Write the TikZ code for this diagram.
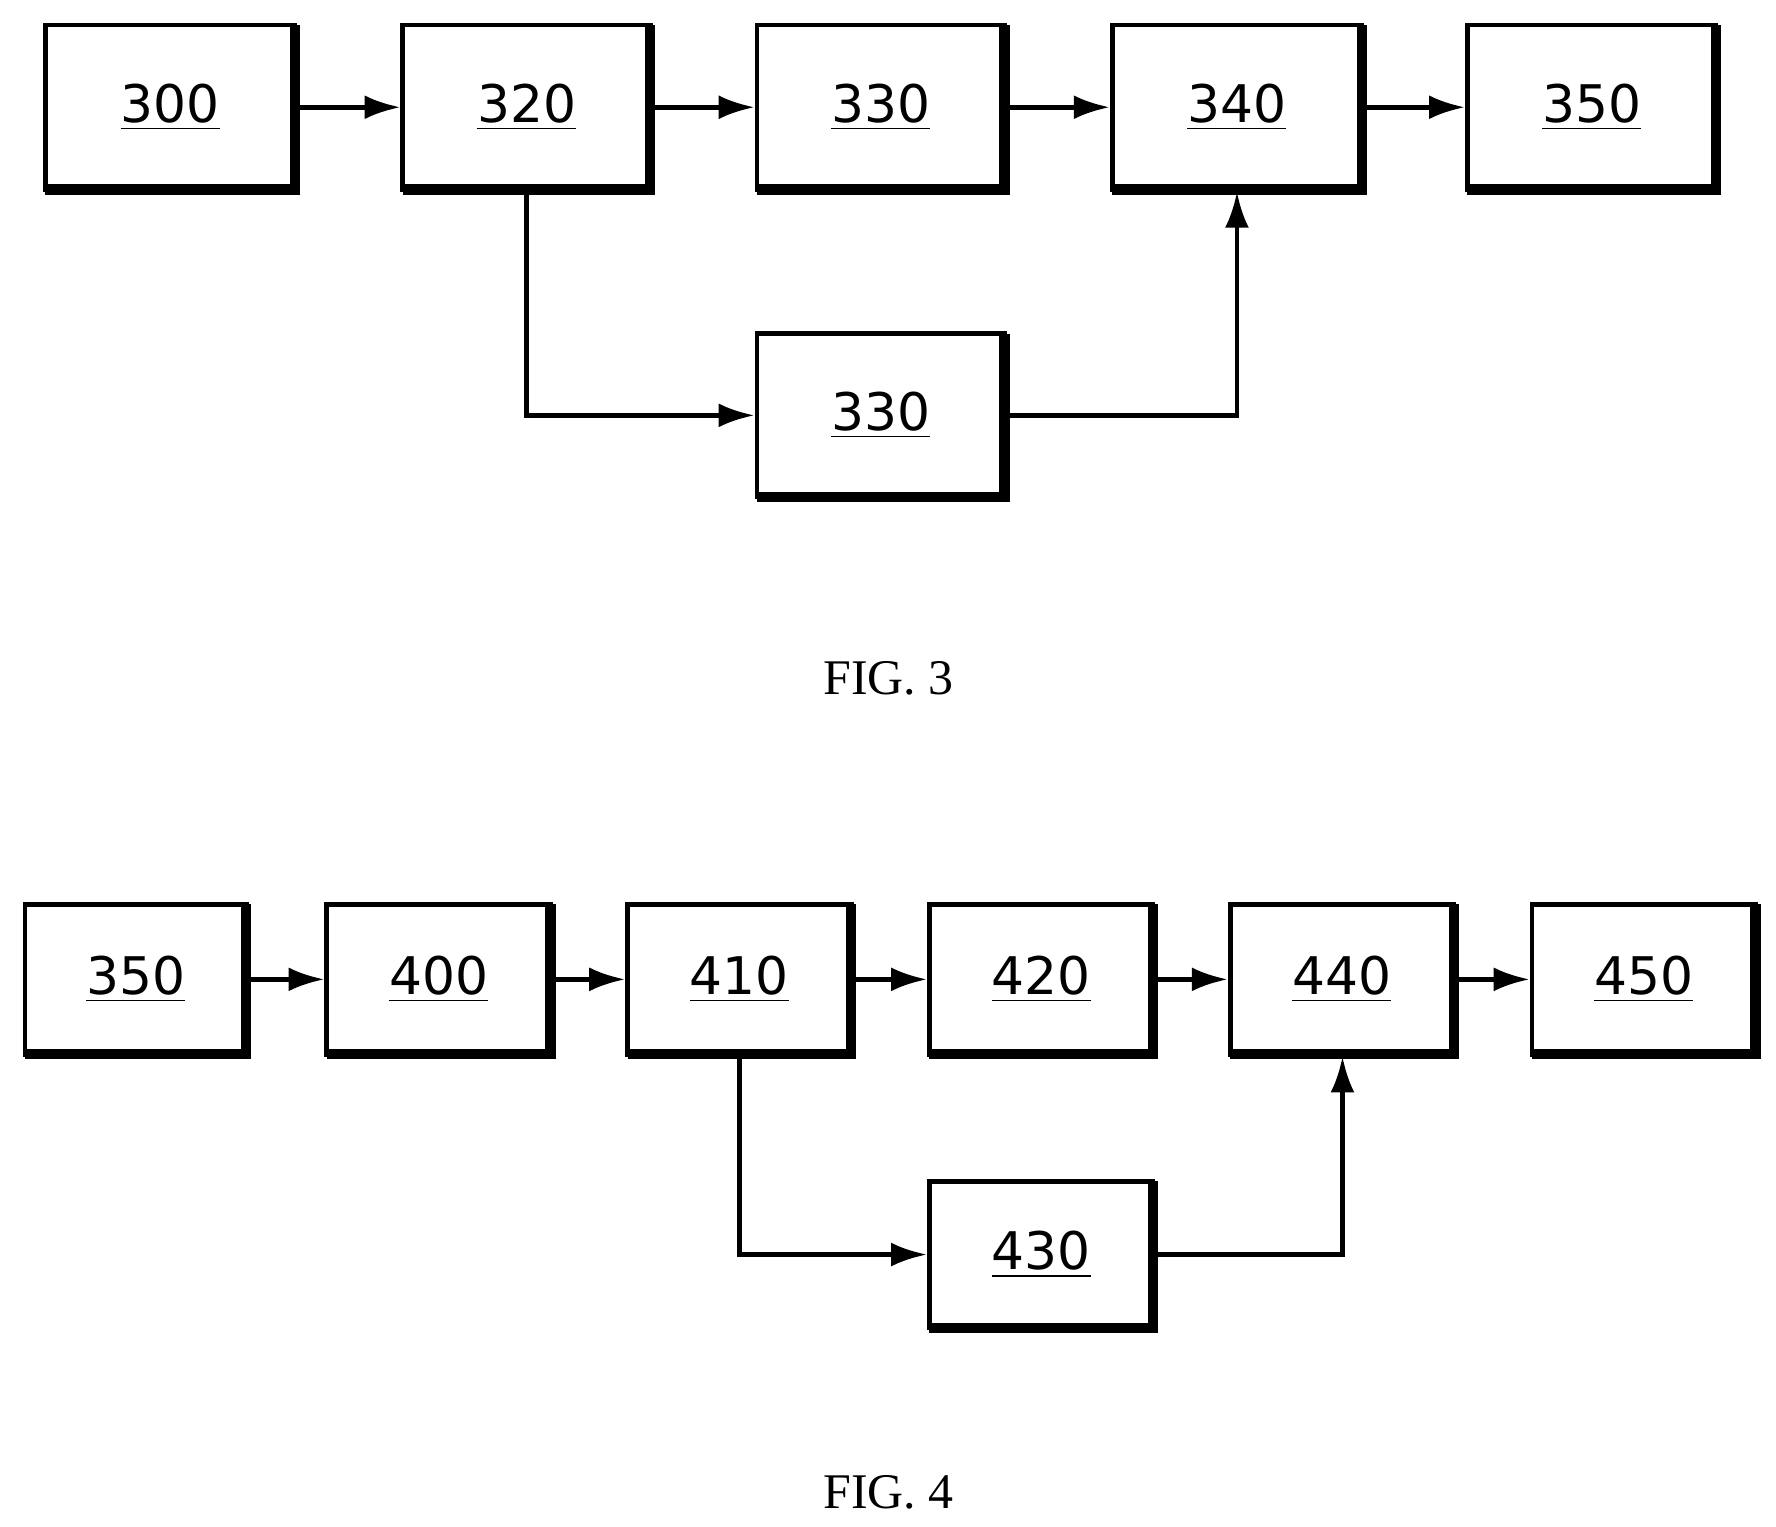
\documentclass[tikz,border=0pt]{standalone}
\usepackage{fontspec}
\setmainfont{Liberation Serif}
\newfontfamily\boxfont{DejaVu Sans}
\usetikzlibrary{arrows.meta}
\begin{document}
\begin{tikzpicture}[x=0.01cm,y=-0.01cm,
 box/.style={draw,line width=1.2pt,inner sep=0pt},
 arr/.style={line width=1.2pt,-{Latex[length=9pt,width=6pt]}}]
\useasboundingbox (0,0) rectangle (1565,1345);
\newcommand\bx[5]{% name, x1,y1,x2,y2
 \node[box,minimum width={(#4-#2)*0.01cm},minimum height={(#5-#3)*0.01cm}] (#1) at ({(#2+#4)/2},{(#3+#5)/2}) {};
 \draw[line width=2.6pt] (#2,#5) -- (#4,#5) -- (#4,#3);}
\newcommand\lbl[2]{\node[font=\boxfont\fontsize{13}{13}\selectfont] at (#1) {\underline{#2}};}
% FIG 3
\bx{a300}{40}{22}{260}{167}\lbl{a300}{300}
\bx{a320}{355}{22}{573}{167}\lbl{a320}{320}
\bx{a330}{667}{22}{885}{167}\lbl{a330}{330}
\bx{a340}{980}{22}{1200}{167}\lbl{a340}{340}
\bx{a350}{1293}{22}{1512}{167}\lbl{a350}{350}
\bx{b330}{667}{294}{885}{438}\lbl{b330}{330}
\draw[arr] (a300.east) -- (a320.west);
\draw[arr] (a320.east) -- (a330.west);
\draw[arr] (a330.east) -- (a340.west);
\draw[arr] (a340.east) -- (a350.west);
\draw[arr] (a320.south) |- (b330.west);
\draw[arr] (b330.east) -| (1090,169);
\node[font=\fontsize{12.5}{13}\selectfont] (f3) at (783,598) {FIG. 3};
% FIG 4
\bx{c350}{22}{797}{217}{929}\lbl{c350}{350}
\bx{c400}{288}{797}{485}{929}\lbl{c400}{400}
\bx{c410}{553}{797}{750}{929}\lbl{c410}{410}
\bx{c420}{819}{797}{1016}{929}\lbl{c420}{420}
\bx{c440}{1084}{797}{1281}{929}\lbl{c440}{440}
\bx{c450}{1350}{797}{1547}{929}\lbl{c450}{450}
\bx{c430}{819}{1041}{1016}{1170}\lbl{c430}{430}
\draw[arr] (c350.east) -- (c400.west);
\draw[arr] (c400.east) -- (c410.west);
\draw[arr] (c410.east) -- (c420.west);
\draw[arr] (c420.east) -- (c440.west);
\draw[arr] (c440.east) -- (c450.west);
\draw[arr] (c410.south) |- (c430.west);
\draw[arr] (c430.east) -| (1183,931);
\node[font=\fontsize{12.5}{13}\selectfont] (f4) at (783,1315) {FIG. 4};
\end{tikzpicture}
\end{document}
